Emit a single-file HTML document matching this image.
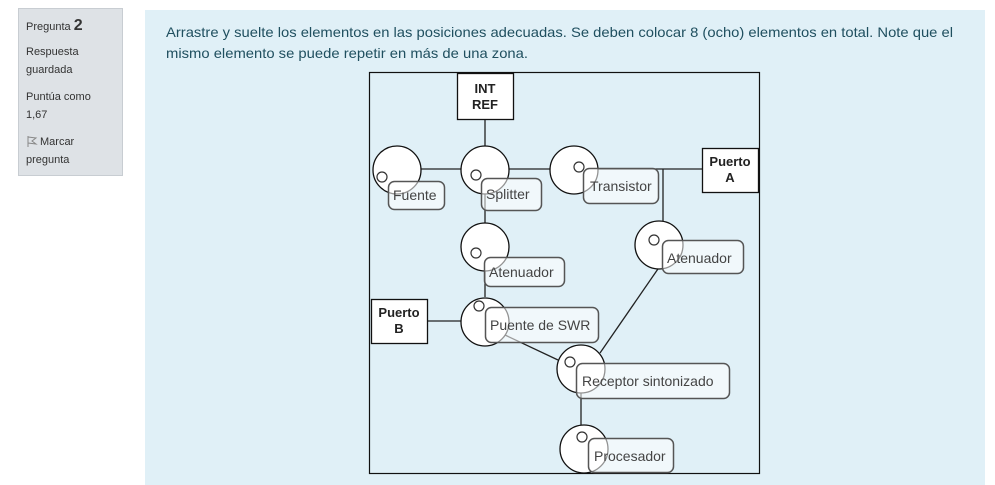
<!DOCTYPE html>
<html><head><meta charset="utf-8"><style>
html,body{margin:0;padding:0;background:#fff;width:995px;height:485px;overflow:hidden}
svg{display:block;font-family:"Liberation Sans",sans-serif}
</style></head><body>
<svg width="995" height="485" viewBox="0 0 995 485">
<rect x="0" y="0" width="995" height="485" fill="#fff"/>
<rect x="18.5" y="8.5" width="104" height="167" fill="#dee2e6" stroke="#c8cdd2"/>
<g fill="#333" font-size="11">
<text x="26" y="30">Pregunta <tspan font-weight="bold" font-size="16">2</tspan></text>
<text x="26" y="55">Respuesta</text>
<text x="26" y="73">guardada</text>
<text x="26" y="100">Puntúa como</text>
<text x="26" y="118">1,67</text>
<text x="40" y="145">Marcar</text>
<text x="26" y="163">pregunta</text>
</g>
<path d="M28 136 V147 M28 137 L36 138 L32 141 L36 144 L28 143" fill="none" stroke="#888" stroke-width="1"/>
<rect x="145" y="10" width="840" height="475" fill="#e0f0f7"/>
<g fill="#1f4f5f" font-size="14">
<text x="166" y="37" textLength="787" lengthAdjust="spacingAndGlyphs">Arrastre y suelte los elementos en las posiciones adecuadas. Se deben colocar 8 (ocho) elementos en total. Note que el</text>
<text x="166" y="58" textLength="362" lengthAdjust="spacingAndGlyphs">mismo elemento se puede repetir en más de una zona.</text>
</g>
<rect x="369.5" y="72.5" width="390" height="401" fill="none" stroke="#111" stroke-width="1.2"/>
<g stroke="#222" stroke-width="1.3" fill="none">
<line x1="485" y1="119" x2="485" y2="147"/>
<line x1="421" y1="169" x2="702" y2="169"/>
<line x1="663" y1="169" x2="663" y2="224"/>
<line x1="485" y1="194" x2="485" y2="223"/>
<line x1="485" y1="271" x2="485" y2="297"/>
<line x1="427" y1="321" x2="461" y2="321"/>
<line x1="505" y1="335" x2="558" y2="360"/>
<line x1="600" y1="353" x2="660" y2="266"/>
<line x1="581" y1="393" x2="581" y2="426"/>
</g>
<g fill="#fff" stroke="#111" stroke-width="1.3">
<rect x="457.5" y="73.5" width="56" height="46"/>
<rect x="702.5" y="148.5" width="56" height="44"/>
<rect x="371.5" y="299.5" width="56" height="44"/>
<circle cx="397" cy="170" r="24"/>
<circle cx="485" cy="170" r="24"/>
<circle cx="574" cy="170" r="24"/>
<circle cx="485" cy="247" r="24"/>
<circle cx="659" cy="245" r="24"/>
<circle cx="485" cy="322" r="24"/>
<circle cx="581" cy="369" r="24"/>
<circle cx="584" cy="449" r="24"/>
</g>
<g font-size="13" font-weight="bold" fill="#222" text-anchor="middle">
<text x="485" y="93">INT</text><text x="485" y="109">REF</text>
<text x="730" y="166">Puerto</text><text x="730" y="182">A</text>
<text x="399" y="317">Puerto</text><text x="399" y="333">B</text>
</g>
<g fill="none" stroke="#333" stroke-width="1.2">
<circle cx="382" cy="177" r="5"/>
<circle cx="476" cy="175" r="5"/>
<circle cx="579" cy="167" r="5"/>
<circle cx="476" cy="253" r="5"/>
<circle cx="654" cy="240" r="5"/>
<circle cx="479" cy="306" r="5"/>
<circle cx="570" cy="362" r="5"/>
<circle cx="582" cy="437" r="5"/>
</g>
<g fill="rgba(255,255,255,0.55)" stroke="#555" stroke-width="1.5">
<rect x="388.5" y="181.5" width="56" height="28" rx="6"/>
<rect x="481.5" y="178.5" width="60" height="32" rx="6"/>
<rect x="583.5" y="168.5" width="75" height="35" rx="6"/>
<rect x="484.5" y="257.5" width="80" height="29" rx="6"/>
<rect x="662.5" y="240.5" width="81" height="33" rx="6"/>
<rect x="485.5" y="307.5" width="113" height="35" rx="6"/>
<rect x="576.5" y="363.5" width="153" height="35" rx="6"/>
<rect x="588.5" y="438.5" width="85" height="34" rx="6"/>
</g>
<g font-size="14" fill="#444">
<text x="393" y="200">Fuente</text>
<text x="486" y="199">Splitter</text>
<text x="590" y="191">Transistor</text>
<text x="489" y="277">Atenuador</text>
<text x="667" y="263">Atenuador</text>
<text x="490" y="330">Puente de SWR</text>
<text x="582" y="386">Receptor sintonizado</text>
<text x="594" y="461">Procesador</text>
</g>
</svg>
</body></html>
